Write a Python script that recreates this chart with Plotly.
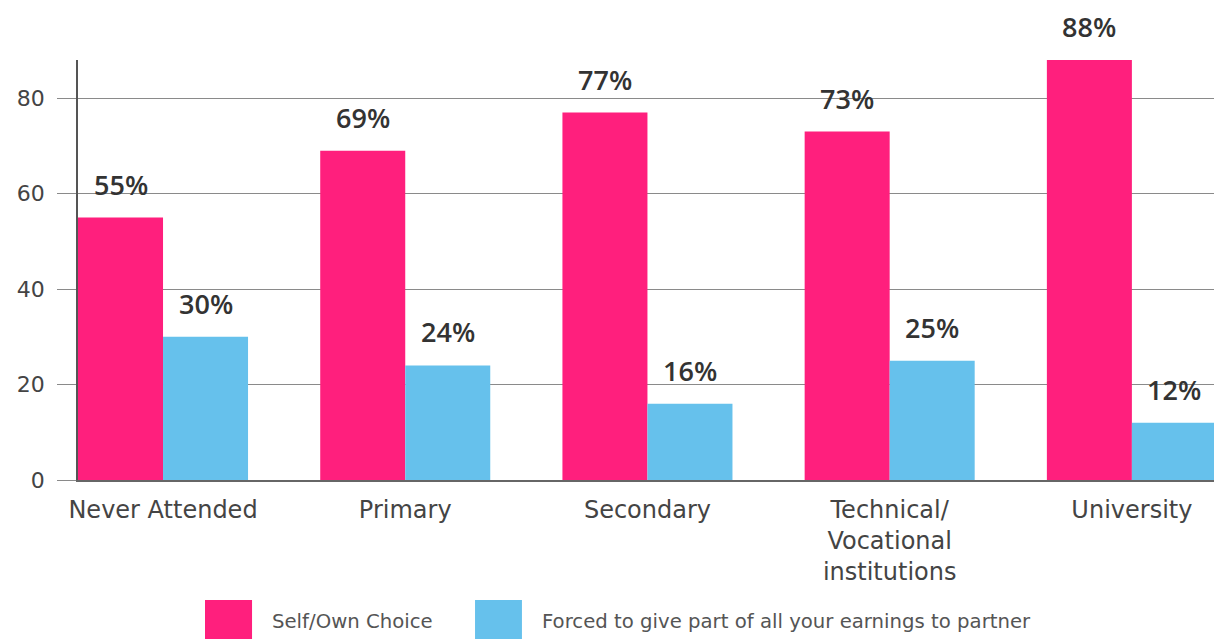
import plotly.graph_objects as go

categories = ["Never Attended", "Primary", "Secondary", "Technical/<br>Vocational<br>institutions", "University"]
series_names = ["Self/Own Choice", "Forced to give part of all your earnings to partner"]
self_choice = [55, 69, 77, 73, 88]
forced = [30, 24, 16, 25, 12]
y_ticks = [0, 20, 40, 60, 80]

PINK = "#FF1F7D"
BLUE = "#66C1EC"
FONT = "DejaVu Sans, sans-serif"
VFONT = "Open Sans, sans-serif"

fig = go.Figure()
fig.add_trace(go.Bar(x=categories, y=self_choice, name=series_names[0], marker=dict(color=PINK, line=dict(width=0))))
fig.add_trace(go.Bar(x=categories, y=forced, name=series_names[1], marker=dict(color=BLUE, line=dict(width=0))))

annotations = []
for vals, shift in ((self_choice, -42.5), (forced, 42.5)):
    for c, v in zip(categories, vals):
        annotations.append(dict(x=c, y=v, xref="x", yref="y", text=f"{v}%", showarrow=False,
                                xshift=shift, yshift=13, yanchor="bottom",
                                font=dict(family=VFONT, size=27, color="#333333", weight=600)))

# custom large legend
legend_items = [(series_names[0], PINK, 0.1118, 0.1532, 0.169), (series_names[1], BLUE, 0.3495, 0.3908, 0.4067)]
shapes = []
for name, col, x0, x1, xt in legend_items:
    shapes.append(dict(type="rect", xref="paper", yref="paper", x0=x0, x1=x1, y0=-0.40, y1=-0.2857,
                       fillcolor=col, line=dict(width=0)))
    annotations.append(dict(x=xt, y=-0.336, xref="paper", yref="paper", text=name, showarrow=False,
                            xanchor="left", yanchor="middle",
                            font=dict(family=FONT, size=19.7, color="#555555")))

fig.update_layout(
    width=1214, height=639,
    margin=dict(l=78, r=0, t=60, b=159),
    paper_bgcolor="white", plot_bgcolor="white",
    barmode="group", bargap=0.298, bargroupgap=0,
    showlegend=False,
    annotations=annotations, shapes=shapes,
    font=dict(family=FONT, color="#444444"),
)
fig.update_xaxes(range=[-0.351, 4.339], showline=True, linecolor="#666666", linewidth=2,
                 ticks="", tickfont=dict(size=24, color="#444444"), ticklabelstandoff=7,
                 showgrid=False, zeroline=False)
fig.update_yaxes(range=[0, 88], tickvals=y_ticks, showgrid=True, gridcolor="#8a8a8a", gridwidth=1.2,
                 showline=True, linecolor="#555555", linewidth=1.5,
                 ticks="outside", ticklen=19, tickcolor="#8a8a8a", tickwidth=1.2,
                 tickfont=dict(size=22, color="#444444"), ticklabelstandoff=8, zeroline=False)

fig.write_html("out.html", config={"displayModeBar": False},
               post_script="document.body.style.margin='0';document.body.style.overflow='hidden';")
